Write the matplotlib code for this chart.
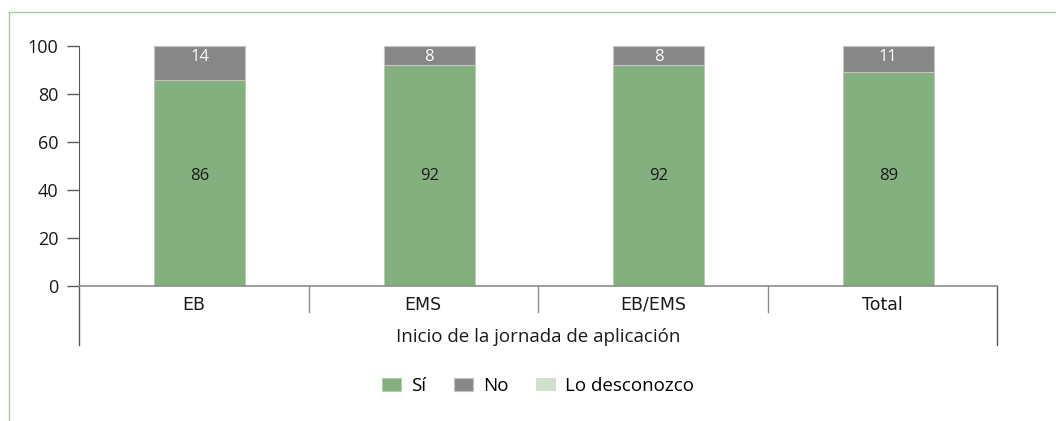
import matplotlib.pyplot as plt
from matplotlib.lines import Line2D
import numpy as np

plt.rcParams['font.family'] = ['Open Sans', 'DejaVu Sans']

categories = ['EB', 'EMS', 'EB/EMS', 'Total']
si = [86, 92, 92, 89]
no = [14, 8, 8, 11]
desconozco = [0, 0, 0, 0]
group_label = 'Inicio de la jornada de aplicación'
series_names = ['Sí', 'No', 'Lo desconozco']
colors = ['#84b07f', '#878787', '#d2dfcc']

fig = plt.figure(figsize=(10.56, 4.21), dpi=100)
ax = fig.add_axes([79/1056, 1-286/421, (997-79)/1056, (286-46)/421])

x = np.arange(len(categories))
xb = x + 0.026  # bars sit slightly right of the category centre
w = 0.397
ax.bar(xb, si, w, color=colors[0], edgecolor='#b8c8b4', linewidth=0.6, label=series_names[0])
ax.bar(xb, no, w, bottom=si, color=colors[1], edgecolor='#c4c4c4', linewidth=0.8, label=series_names[1])
bottom3 = [a + b for a, b in zip(si, no)]
ax.bar(xb, desconozco, w, bottom=bottom3, color=colors[2], label=series_names[2])

for i in range(len(categories)):
    ax.text(xb[i], 45.8, str(si[i]), ha='center', va='center', fontsize=12, color='#1a1a1a')
    ax.text(xb[i], 95.4, str(no[i]), ha='center', va='center', fontsize=12, color='white')

ax.set_xlim(-0.5, len(categories) - 0.5)
ax.set_ylim(0, 100)
ax.set_yticks([0, 20, 40, 60, 80, 100])
ax.tick_params(axis='y', length=9, width=1, color='#595959', labelsize=13, pad=6, labelcolor='#1a1a1a')
ax.tick_params(axis='x', length=0, pad=7, labelcolor='#1a1a1a')
ax.set_xticks(x)
ax.set_xticklabels(categories, family='DejaVu Sans', fontsize=12.5)

for s in ['top', 'right']:
    ax.spines[s].set_visible(False)
ax.spines['left'].set_color('#595959')
ax.spines['bottom'].set_color('#8c8c8c')
ax.spines['bottom'].set_linewidth(1.2)

# category separators and outer brackets
trans = ax.get_xaxis_transform()
for k in range(1, len(categories)):
    ax.plot([k - 0.5, k - 0.5], [0, -26/240], transform=trans, color='#8c8c8c', lw=1, clip_on=False)
for xe in [-0.5, len(categories) - 0.5]:
    ax.plot([xe, xe], [0, -59/240], transform=trans, color='#595959', lw=1, clip_on=False)
ax.text(0.5, -51/240, group_label, transform=ax.transAxes, ha='center', va='center', fontsize=13.5, color='#1a1a1a')

ax.legend(loc='center', bbox_to_anchor=(0.5, -100/240), ncol=3, frameon=False, fontsize=13.5,
          handlelength=1.05, handleheight=0.75, handletextpad=0.5, columnspacing=1.5)

# light green frame (left and top)
fig.add_artist(Line2D([9/1056, 9/1056], [0, 1-12/421], color='#a9c9a3', lw=1))
fig.add_artist(Line2D([9/1056, 1], [1-12/421, 1-12/421], color='#a9c9a3', lw=1))

fig.savefig('out.png', dpi=100)
